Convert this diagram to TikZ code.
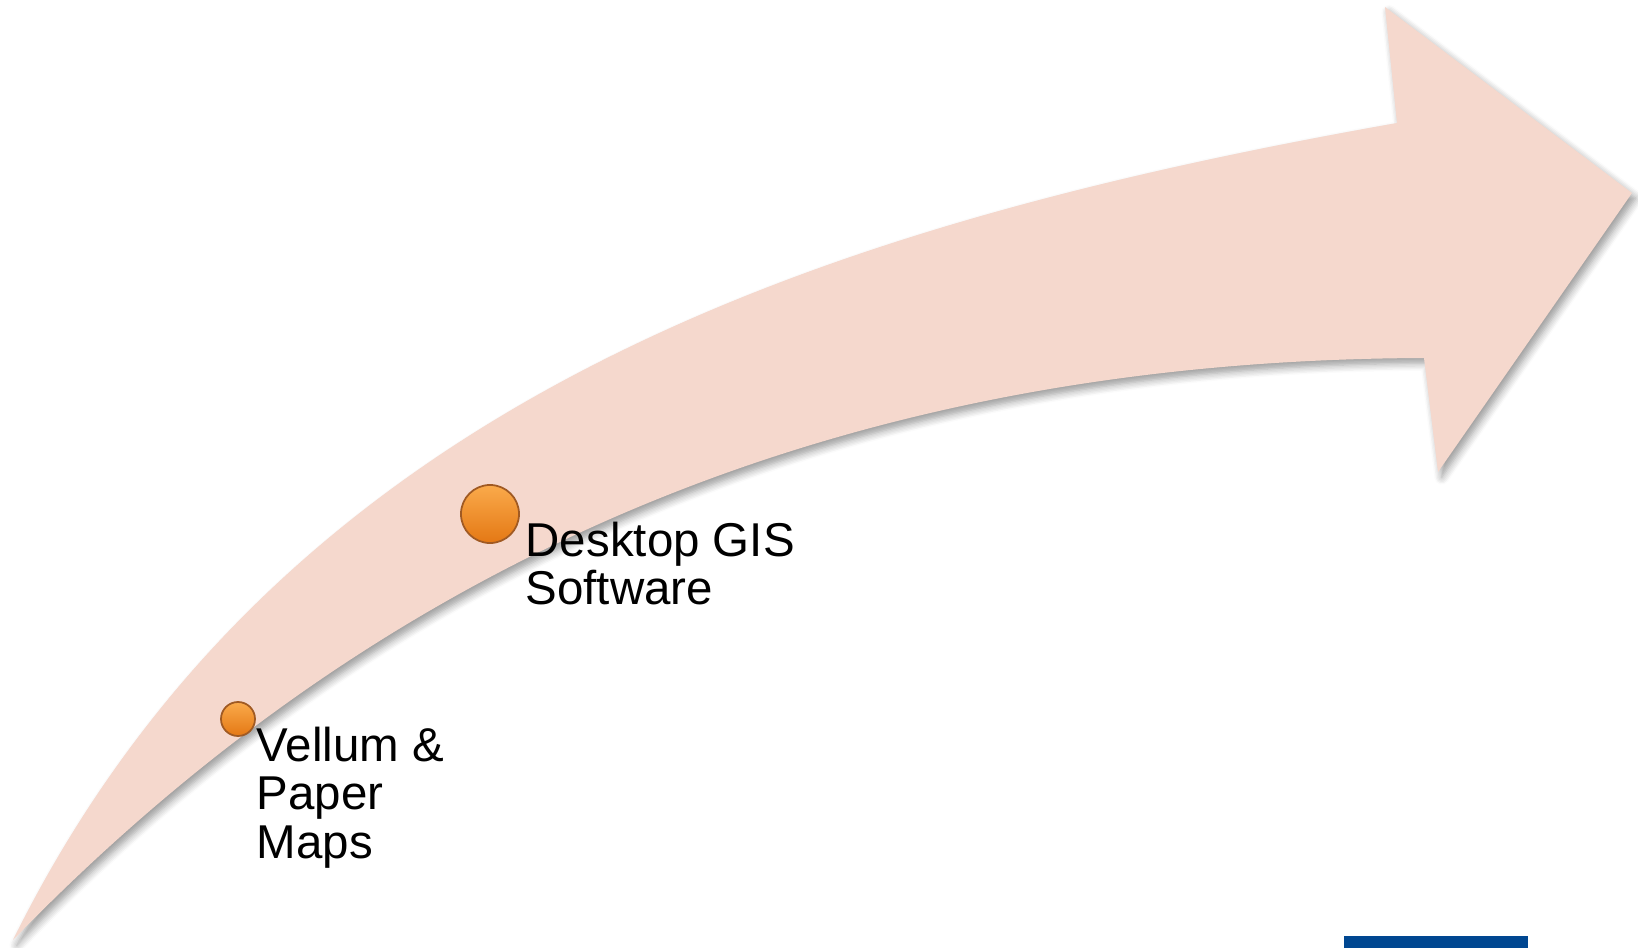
\documentclass[tikz,border=0pt]{standalone}
\usepackage{fontspec}
\setmainfont{Liberation Sans}
\usepackage{tikz}
\usetikzlibrary{shapes,arrows,shadows.blur}
\definecolor{arrowpink}{RGB}{245,216,205}
\definecolor{balltop}{RGB}{250,170,75}
\definecolor{ballbottom}{RGB}{228,120,20}
\definecolor{ballrim}{RGB}{160,90,35}
\definecolor{barblue}{RGB}{0,71,145}
\tikzstyle{bigarrow} = [fill=arrowpink, 
    blur shadow={shadow xshift=1.1pt, shadow yshift=-1.5pt, shadow blur steps=6, shadow opacity=40}]
\tikzstyle{dot} = [circle, top color=balltop, bottom color=ballbottom, draw=ballrim, line width=0.5pt, inner sep=0pt]
\tikzstyle{stage} = [anchor=north west, align=left, inner sep=0pt, font=\fontsize{13.5}{13.9}\selectfont]

\begin{document}
\begin{tikzpicture}[x=0.01cm, y=-0.01cm]
    \useasboundingbox (0,0) rectangle (1638,948);

    % Curved arrow
    \path [bigarrow] (13,940) .. controls (280,400) and (820,225) .. (1397,123)
        -- (1385,7) -- (1632,193) -- (1438,472) -- (1424,358)
        .. controls (900,360) and (420,520) .. (13,940) -- cycle;

    % Place nodes
    \node [dot, minimum size=0.34cm, at={(238,719)}] (vellumdot) {};
    \node [dot, minimum size=0.58cm, at={(490,514)}] (desktopdot) {};

    \node [stage, at={(256,726)}] (vellum) {Vellum \&\\Paper\\Maps};
    \node [stage, at={(525,521)}] (desktop) {Desktop GIS\\Software};

    % Corner bar
    \fill [barblue] (1344,936) rectangle (1528,948);

\end{tikzpicture}
\end{document}
